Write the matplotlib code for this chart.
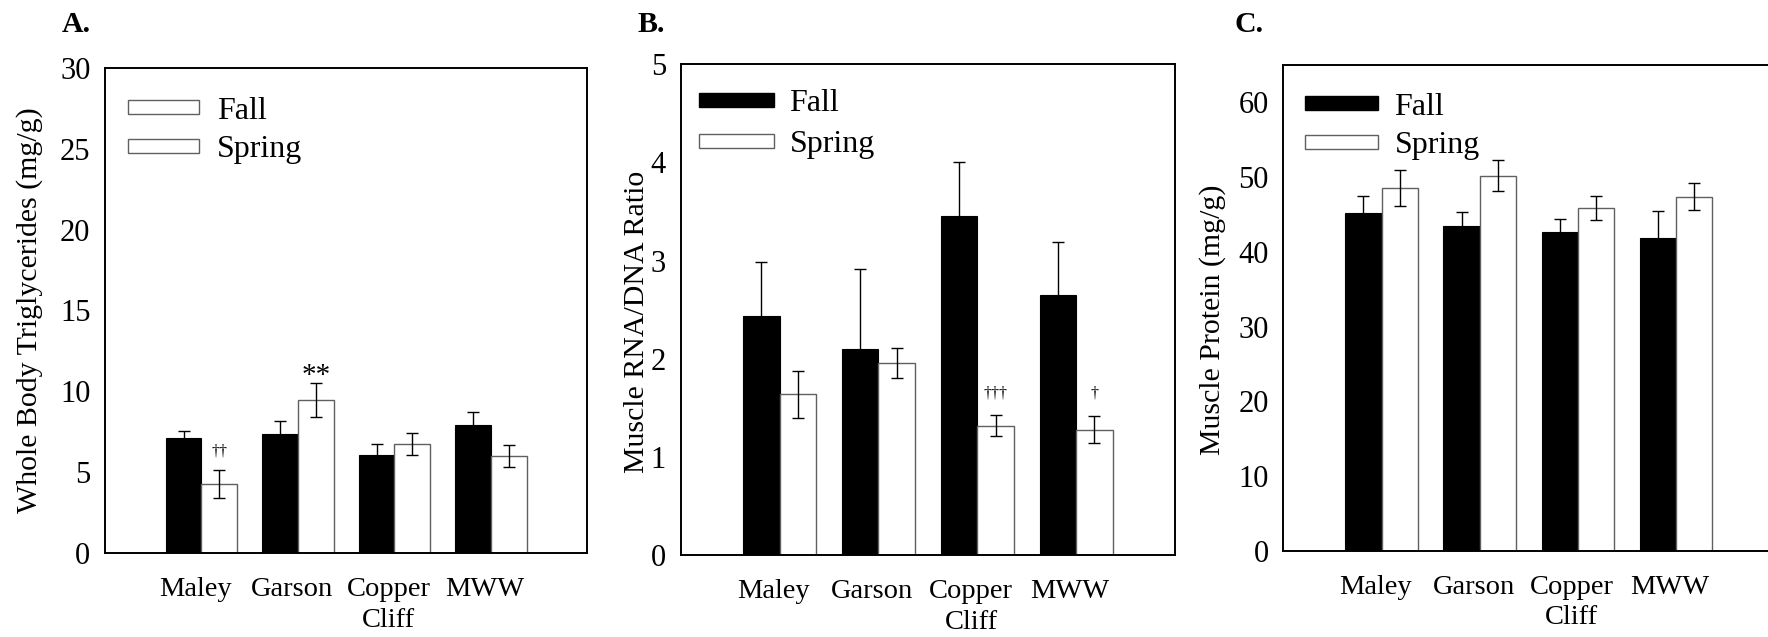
import numpy as np
import matplotlib
matplotlib.use("Agg")
import matplotlib.pyplot as plt
import matplotlib.transforms as mtransforms
from matplotlib.patches import Patch

plt.rcParams['font.family'] = ['Liberation Serif', 'DejaVu Serif']

# data
sites = ['Maley', 'Garson', 'Copper\nCliff', 'MWW']
seasons = ['Fall', 'Spring']

tg_fall = [7.10, 7.39, 6.08, 7.94]
tg_fall_err = [0.47, 0.80, 0.68, 0.78]
tg_spring = [4.26, 9.47, 6.73, 6.00]
tg_spring_err = [0.86, 1.03, 0.68, 0.68]

rna_fall = [2.44, 2.10, 3.46, 2.65]
rna_fall_err = [0.55, 0.82, 0.54, 0.54]
rna_spring = [1.64, 1.96, 1.32, 1.28]
rna_spring_err = [0.24, 0.15, 0.11, 0.14]

prot_fall = [45.2, 43.5, 42.7, 41.9]
prot_fall_err = [2.3, 1.8, 1.7, 3.6]
prot_spring = [48.5, 50.2, 45.9, 47.4]
prot_spring_err = [2.4, 2.1, 1.6, 1.8]

# significance marks: (text, site index, y)
tg_marks = [('\u2020\u2020', 0, 6.29), ('**', 1, 10.55)]
rna_marks = [('\u2020\u2020\u2020', 2, 1.65), ('\u2020', 3, 1.65)]

W = 0.37
SPRING_EDGE = '#606060'


def draw_panel(fig, rect, fall, fall_err, spring, spring_err, ylim, yticks,
               ylabel, label_xy, letter, letter_x, fall_legend_black=True):
    ax = fig.add_axes(rect)
    x = np.arange(len(sites))
    ax.bar(x - W / 2, fall, W, color='black', edgecolor='black', lw=0.8,
           zorder=2, label=seasons[0])
    ax.bar(x + W / 2, spring, W, color='white', edgecolor=SPRING_EDGE, lw=1.0,
           zorder=2, label=seasons[1])
    ax.errorbar(x - W / 2, fall, yerr=fall_err, fmt='none', ecolor='black',
                elinewidth=1.0, capsize=4, capthick=1.0, zorder=3)
    ax.errorbar(x + W / 2, spring, yerr=spring_err, fmt='none', ecolor='black',
                elinewidth=1.0, capsize=4, capthick=1.0, zorder=3)
    ax.set_xlim(-1, 4)
    ax.set_ylim(*ylim)
    ax.set_yticks(yticks)
    ax.set_xticks(x)
    ax.set_xticklabels(sites, linespacing=1.3, fontsize=20.5)
    ax.tick_params(axis='both', length=0)
    ax.tick_params(axis='x', pad=17)
    ax.tick_params(axis='y', pad=10.5, labelsize=22)
    # labels in the original sit a little left of the bar pairs
    shift = mtransforms.ScaledTranslation(-6 / 100, 0, fig.dpi_scale_trans)
    for lab in ax.get_xticklabels():
        lab.set_transform(lab.get_transform() + shift)
    for sp in ax.spines.values():
        sp.set_linewidth(1.4)
    ax.set_ylabel(ylabel, fontsize=21.5, va='center')
    ax.yaxis.set_label_coords(*label_xy)

    # panel A's legend shows both seasons as open boxes
    if fall_legend_black:
        h_fall = Patch(facecolor='black', edgecolor='black')
    else:
        h_fall = Patch(facecolor='white', edgecolor=SPRING_EDGE)
    h_spring = Patch(facecolor='white', edgecolor=SPRING_EDGE)
    fig.text(letter_x, 0.9498, letter, fontsize=21.5, fontweight='bold',
             va='baseline')
    return ax, [h_fall, h_spring]


def add_legend(ax, handles, anchor, hlen, hpad, lspace=0.3):
    ax.legend(handles, seasons, loc='upper left', bbox_to_anchor=anchor,
              frameon=False, fontsize=23, handlelength=hlen, handleheight=0.3,
              handletextpad=hpad, labelspacing=lspace, borderpad=0,
              borderaxespad=0)


fig = plt.figure(figsize=(17.68, 6.37), dpi=100)

axA, hA = draw_panel(fig, [0.05939, 0.13140, 0.27279, 0.76232],
                     tg_fall, tg_fall_err, tg_spring, tg_spring_err,
                     (0, 30), [0, 5, 10, 15, 20, 25, 30],
                     'Whole Body Triglycerides (mg/g)', (-0.1555, 0.5),
                     'A.', 62 / 1768, fall_legend_black=False)
add_legend(axA, hA, (0.0477, 0.940), 2.22, 0.56)
for txt, i, y in tg_marks:
    if txt == '**':
        axA.text(i + W / 2, y, txt, ha='center', va='baseline', fontsize=21)
    else:
        axA.text(i + W / 2, y, txt, ha='center', va='center', fontsize=11.5)

axB, hB = draw_panel(fig, [0.38501, 0.12826, 0.27958, 0.77080],
                     rna_fall, rna_fall_err, rna_spring, rna_spring_err,
                     (0, 5), [0, 1, 2, 3, 4, 5],
                     'Muscle RNA/DNA Ratio', (-0.088, 0.476),
                     'B.', 637 / 1768)
add_legend(axB, hB, (0.037, 0.949), 2.35, 0.48, lspace=0.38)
for txt, i, y in rna_marks:
    axB.text(i + W / 2, y, txt, ha='center', va='center', fontsize=11.5)

axC, hC = draw_panel(fig, [0.72585, 0.13501, 0.27771, 0.76295],
                     prot_fall, prot_fall_err, prot_spring, prot_spring_err,
                     (0, 65), [0, 10, 20, 30, 40, 50, 60],
                     'Muscle Protein (mg/g)', (-0.1432, 0.475),
                     'C.', 1235 / 1768)
add_legend(axC, hC, (0.0442, 0.943), 2.28, 0.52)

fig.savefig('out.png', dpi=100)
